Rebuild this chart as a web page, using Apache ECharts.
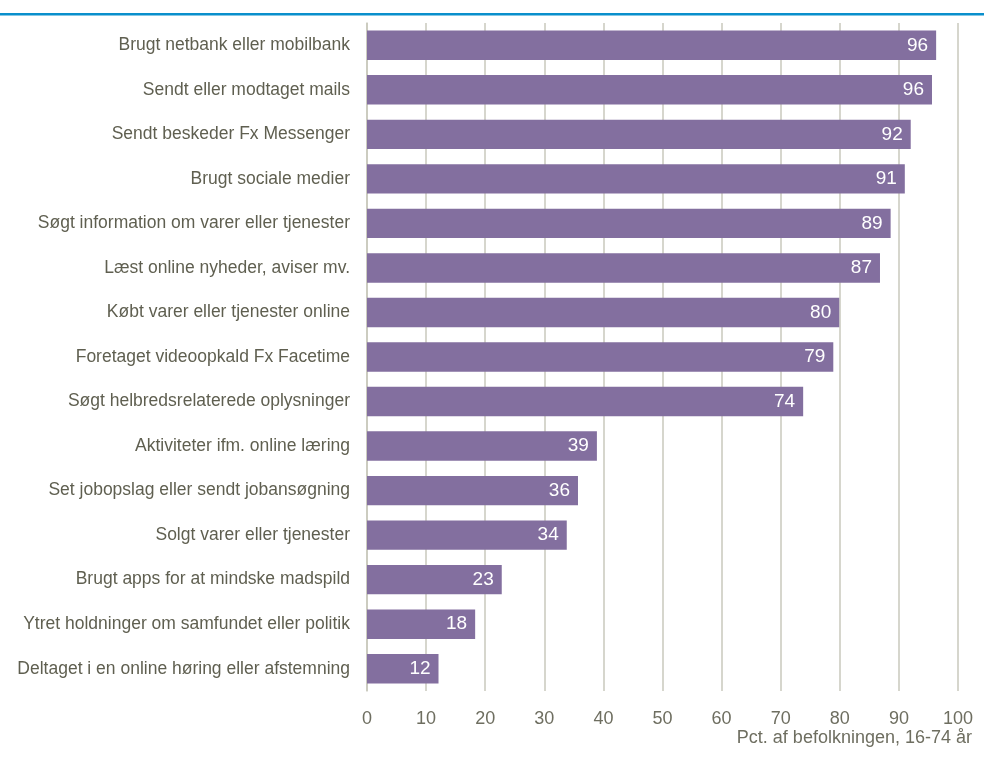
<!DOCTYPE html>
<html>
<head>
<meta charset="utf-8">
<script src="https://cdn.jsdelivr.net/npm/echarts@6/dist/echarts.min.js"></script>
<style>
html,body{margin:0;padding:0;background:#fff;}
#c{width:984px;height:775px;}
</style>
</head>
<body>
<div id="c"></div>
<script>
const categories = [
  "Brugt netbank eller mobilbank",
  "Sendt eller modtaget mails",
  "Sendt beskeder Fx Messenger",
  "Brugt sociale medier",
  "Søgt information om varer eller tjenester",
  "Læst online nyheder, aviser mv.",
  "Købt varer eller tjenester online",
  "Foretaget videoopkald Fx Facetime",
  "Søgt helbredsrelaterede oplysninger",
  "Aktiviteter ifm. online læring",
  "Set jobopslag eller sendt jobansøgning",
  "Solgt varer eller tjenester",
  "Brugt apps for at mindske madspild",
  "Ytret holdninger om samfundet eller politik",
  "Deltaget i en online høring eller afstemning"
];
const values = [96.3, 95.6, 92, 91, 88.6, 86.8, 79.9, 78.9, 73.8, 38.9, 35.7, 33.8, 22.8, 18.3, 12.1];
const xTicks = [0, 10, 20, 30, 40, 50, 60, 70, 80, 90, 100];
const axisTitle = "Pct. af befolkningen, 16-74 år";

const FONT = '"Liberation Sans Narrow", "Arial Narrow", "Liberation Sans", sans-serif';
const chart = echarts.init(document.getElementById('c'));
chart.setOption({
  animation: false,
  grid: {left: 367, right: 26, top: 23, bottom: 84, containLabel: false},
  xAxis: {
    type: 'value', min: 0, max: 100, interval: 10,
    axisLine: {show: false}, axisTick: {show: false},
    splitLine: {show: true, lineStyle: {color: '#c9c8bd', width: 1.5}},
    axisLabel: {color: '#6e6e60', fontSize: 18, fontFamily: FONT, margin: 19,
      formatter: v => xTicks.includes(v) ? String(v) : ''}
  },
  yAxis: {
    type: 'category', data: categories, inverse: true,
    axisLine: {show: true, lineStyle: {color: '#c9c8bd', width: 1.5}},
    axisTick: {show: false},
    axisLabel: {color: '#5f5f50', fontSize: 17.5, fontFamily: FONT, margin: 17}
  },
  series: [{
    type: 'bar', data: values, barCategoryGap: '34%',
    itemStyle: {color: '#836f9f'},
    label: {show: true, position: 'insideRight', color: '#fff', fontSize: 19,
      fontFamily: FONT, distance: 8, formatter: p => Math.round(p.value)}
  }],
  graphic: [
    {type: 'rect', shape: {x: 0, y: 13, width: 984, height: 2.5}, style: {fill: '#0a8fcc'}},
    {type: 'text', right: 12, top: 729, style: {text: axisTitle, fill: '#6e6e60', fontSize: 18, fontFamily: FONT}}
  ]
});
</script>
</body>
</html>
